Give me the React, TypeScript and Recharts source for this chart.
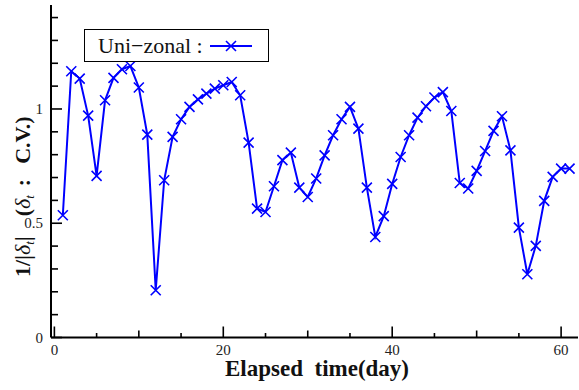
import React from 'react';
import { LineChart, Line, XAxis, YAxis, Legend } from 'recharts';

const days = [
  1, 2, 3, 4, 5, 6, 7, 8, 9, 10, 11, 12, 13, 14, 15, 16, 17, 18, 19, 20,
  21, 22, 23, 24, 25, 26, 27, 28, 29, 30, 31, 32, 33, 34, 35, 36, 37, 38, 39, 40,
  41, 42, 43, 44, 45, 46, 47, 48, 49, 50, 51, 52, 53, 54, 55, 56, 57, 58, 59, 60, 61,
];
const uniZonal = [
  0.535, 1.165, 1.133, 0.971, 0.707, 1.038, 1.136, 1.174, 1.188, 1.094,
  0.888, 0.207, 0.688, 0.878, 0.955, 1.009, 1.042, 1.067, 1.089, 1.104,
  1.118, 1.06, 0.853, 0.564, 0.549, 0.662, 0.776, 0.809, 0.656, 0.615,
  0.696, 0.797, 0.885, 0.955, 1.009, 0.914, 0.656, 0.44, 0.531, 0.672,
  0.79, 0.885, 0.962, 1.012, 1.05, 1.074, 0.991, 0.676, 0.652, 0.729,
  0.816, 0.904, 0.968, 0.819, 0.481, 0.277, 0.401, 0.598, 0.703, 0.739, 0.739,
];
const xTicks = [0, 5, 10, 15, 20, 25, 30, 35, 40, 45, 50, 55, 60];
const xTickLabels = [0, 20, 40, 60];
const yTicks = [0, 0.1, 0.2, 0.3, 0.4, 0.5, 0.6, 0.7, 0.8, 0.9, 1, 1.1, 1.2, 1.3, 1.4];
const yTickLabels = [0, 0.5, 1];
const seriesName = 'Uni\u2212zonal :';
const xTitle = 'Elapsed\u00a0\u00a0time(day)';

const data = days.map((d, i) => ({ day: d, value: uniZonal[i] }));

const BLUE = '#0000ff';
const FONT = 'Liberation Serif';

const isMajorY = (v: number) => yTickLabels.some((t) => Math.abs(t - v) < 1e-6);
const xLen = (v: number) => (v % 20 === 0 ? 11 : v % 10 === 0 ? 7 : 4.5);

const BottomTick = (props: any) => {
  const { x, y, payload } = props;
  const v = payload.value;
  return (
    <g>
      <line x1={x} y1={y} x2={x} y2={y - xLen(v)} stroke="#000" strokeWidth={1.6} />
      {xTickLabels.includes(v) && (
        <text x={x} y={y + 17} textAnchor="middle" fontFamily={FONT} fontSize={15} fill="#222">
          {v}
        </text>
      )}
    </g>
  );
};

const TopTick = (props: any) => {
  const { x, y, payload } = props;
  const v = payload.value;
  return <line x1={x} y1={y} x2={x} y2={y + xLen(v)} stroke="#000" strokeWidth={1.6} />;
};

const LeftTick = (props: any) => {
  const { x, y, payload } = props;
  const v = payload.value;
  const major = isMajorY(v);
  return (
    <g>
      <line x1={x} y1={y} x2={x + (major ? 11 : 7)} y2={y} stroke="#000" strokeWidth={1.6} />
      {major && (
        <text x={x - 8} y={y + 5} textAnchor="end" fontFamily={FONT} fontSize={15} fill="#222">
          {String(Math.round(v * 10) / 10)}
        </text>
      )}
    </g>
  );
};

const RightTick = (props: any) => {
  const { x, y, payload } = props;
  const v = payload.value;
  const major = isMajorY(v);
  return <line x1={x} y1={y} x2={x - (major ? 10 : 5)} y2={y} stroke="#000" strokeWidth={1.6} />;
};

const CrossDot = (props: any) => {
  const { cx, cy, index } = props;
  if (cx == null || cy == null) return <g key={index} />;
  const s = 5;
  return (
    <path
      key={index}
      d={`M${cx - s},${cy - s}L${cx + s},${cy + s}M${cx - s},${cy + s}L${cx + s},${cy - s}`}
      stroke={BLUE}
      strokeWidth={1.6}
      fill="none"
    />
  );
};

const LegendBox = () => (
  <div
    style={{
      boxSizing: 'border-box',
      width: 185,
      height: 33,
      border: '1.6px solid #000',
      background: '#fff',
      display: 'flex',
      alignItems: 'center',
      paddingLeft: 13,
      fontFamily: FONT,
      fontSize: 22,
      color: '#111',
      whiteSpace: 'nowrap',
    }}
  >
    <span>{seriesName}</span>
    <svg width={46} height={20} style={{ marginLeft: 5 }}>
      <line x1={2} y1={10} x2={44} y2={10} stroke={BLUE} strokeWidth={2} />
      <path d="M18,5L28,15M18,15L28,5" stroke={BLUE} strokeWidth={1.6} />
    </svg>
  </div>
);

const YTitle = () => (
  <g transform="translate(30,277) rotate(-90)">
    <text x={0} y={0} textAnchor="start" fontFamily={FONT} fontSize={22} fontWeight="bold" fill="#111">
      <tspan>{'1/|'}</tspan>
      <tspan fontStyle="italic" fontWeight="normal">{'δ'}</tspan>
      <tspan fontStyle="italic" fontWeight="normal" fontSize={13} dy={4}>{'t'}</tspan>
      <tspan dy={-4}>{'|'}</tspan>
      <tspan dx={20}>{'('}</tspan>
      <tspan fontStyle="italic" fontWeight="normal">{'δ'}</tspan>
      <tspan fontStyle="italic" fontWeight="normal" fontSize={13} dy={4}>{'t'}</tspan>
      <tspan dy={-4} dx={9}>{':'}</tspan>
      <tspan dx={15}>{'C.V.)'}</tspan>
    </text>
  </g>
);

const XTitle = () => (
  <text x={317} y={376} textAnchor="middle" fontFamily={FONT} fontSize={23} fontWeight="bold" fill="#111">
    {xTitle}
  </text>
);

export default function App() {
  return (
    <div style={{ position: 'absolute', left: 0, top: 0, width: 579, height: 390, background: '#fff' }}>
      <LineChart width={579} height={390} data={data} margin={{ top: 5, right: 1, bottom: 0, left: 0 }}>
        <XAxis
          xAxisId="bottom"
          dataKey="day"
          type="number"
          domain={[-0.4, 62]}
          ticks={xTicks}
          allowDataOverflow
          height={52.5}
          tickSize={0}
          tickMargin={0}
          tickLine={false}
          interval={0}
          axisLine={{ stroke: '#000', strokeWidth: 2 }}
          tick={<BottomTick />}
          label={{ content: () => <XTitle /> }}
        />
        <XAxis
          xAxisId="top"
          orientation="top"
          dataKey="day"
          type="number"
          domain={[-0.4, 62]}
          ticks={xTicks}
          allowDataOverflow
          height={0}
          tickSize={0}
          tickMargin={0}
          tickLine={false}
          interval={0}
          axisLine={{ stroke: '#000', strokeWidth: 2 }}
          tick={<TopTick />}
        />
        <YAxis
          yAxisId="left"
          type="number"
          domain={[0, 1.455]}
          ticks={yTicks}
          allowDataOverflow
          width={51}
          tickSize={0}
          tickMargin={0}
          tickLine={false}
          interval={0}
          axisLine={{ stroke: '#000', strokeWidth: 2 }}
          tick={<LeftTick />}
          label={{ content: () => <YTitle /> }}
        />
        <YAxis
          yAxisId="right"
          orientation="right"
          type="number"
          domain={[0, 1.455]}
          ticks={yTicks}
          allowDataOverflow
          width={0}
          tickSize={0}
          tickMargin={0}
          tickLine={false}
          interval={0}
          axisLine={{ stroke: '#000', strokeWidth: 2 }}
          tick={<RightTick />}
        />
        <Legend
          layout="horizontal"
          verticalAlign="middle"
          align="center"
          content={() => <LegendBox />}
          wrapperStyle={{ position: 'absolute', left: 84, top: 29, width: 185, height: 33, margin: 0 }}
        />
        <Line
          xAxisId="bottom"
          yAxisId="left"
          type="linear"
          dataKey="value"
          name={seriesName}
          stroke={BLUE}
          strokeWidth={2}
          dot={CrossDot}
          activeDot={false}
          isAnimationActive={false}
        />
      </LineChart>
    </div>
  );
}
